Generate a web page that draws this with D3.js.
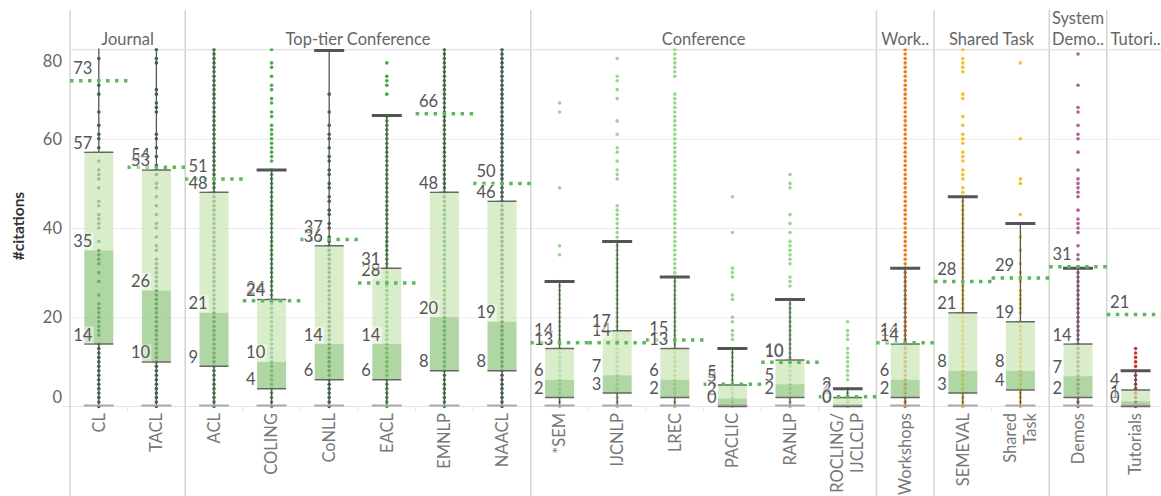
<!DOCTYPE html>
<html>
<head>
<meta charset="utf-8">
<script src="https://cdn.jsdelivr.net/npm/d3@7"></script>
<style>
  body { margin: 0; background: #fff; }
  svg text { font-family: Lato, "Open Sans", sans-serif; }
</style>
</head>
<body>
<div id="chart"></div>
<script>
// venue groups shown in the header row
const groups = ["Journal", "Top-tier Conference", "Conference", "Work..", "Shared Task", "System\nDemo..", "Tutori.."];

const categories = ["CL", "TACL", "ACL", "COLING", "CoNLL", "EACL", "EMNLP", "NAACL",
  "*SEM", "IJCNLP", "LREC", "PACLIC", "RANLP", "ROCLING/\nIJCLCLP",
  "Workshops", "SEMEVAL", "Shared\nTask", "Demos", "Tutorials"];
const categoryGroup = [0, 0, 1, 1, 1, 1, 1, 1, 2, 2, 2, 2, 2, 2, 3, 4, 4, 5, 6];

// box plot stats (#citations), whisker low is always 0
const q1 =      [14, 10, 9, 4, 6, 6, 8, 8, 2, 3, 2, 0, 2, 0, 2, 3, 3.7, 2, 0];
const median =  [35, 26, 21, 10, 14, 14, 20, 19, 6, 7, 6, 1.8, 5, 0.3, 6, 8, 8, 6.8, 1.2];
const q3 =      [57, 53, 48, 24, 36, 31, 48, 46, 13, 17, 13, 4.8, 10.4, 2, 14, 21, 19, 14, 3.7];
const whiskerHigh = [120, 120, 120, 53, 79.8, 65.2, 120, 120, 28, 37, 29, 13, 24, 4, 31, 47, 41, 31, 8];
const means =   [73, 53.6, 51, 23.7, 37.4, 27.7, 65.6, 50, 14.3, 14.3, 14.9, 5.0, 9.9, 2.2, 14.3, 28, 28.8, 31.3, 20.6];

const dotColors = ["#2e6b41", "#2e6b41", "#3a8a3f", "#4cab4c", "#2e6b41", "#45a345", "#3a8a3f", "#2e6b41",
  "#98d78e", "#98d78e", "#98d78e", "#98d78e", "#98d78e", "#98d78e",
  "#f07d1c", "#f2c12e", "#f2c12e", "#b2619f", "#c23b2c"];

// individual papers: every integer up to denseTop has papers, plus sparser ones above
const denseSteps = [0, 1, 2, 3, 4, 5, 6, 7, 8, 9, 10, 11, 12, 13, 14, 15, 16, 17, 18, 19, 20,
  21, 22, 23, 24, 25, 26, 27, 28, 29, 30, 31, 32, 33, 34, 35, 36, 37, 38, 39, 40,
  41, 42, 43, 44, 45, 46, 47, 48, 49, 50, 51, 52, 53, 54, 55, 56, 57, 58, 59, 60,
  61, 62, 63, 64, 65, 66, 67, 68, 69, 70, 71, 72, 73, 74, 75, 76, 77, 78, 79, 80];
const denseTop = [14, 33, 80, 53, 37, 65, 80, 80, 28, 37, 70, 13, 24, 4, 80, 47, 19, 31, 13];
const sparseDots = [
  [78, 72, 70, 66, 63, 61, 60, 58, 55, 53, 52, 51, 49, 46, 45, 43, 42, 41, 40, 37, 35, 34, 33, 32, 30, 28, 25, 23, 22, 21, 20, 19, 18, 17, 16],
  [35, 36, 38, 40, 41, 43, 45, 47, 49, 50, 52, 54, 56, 58, 60, 61, 66, 67, 68, 70, 71, 77, 78, 80],
  [],
  [80, 77, 76, 74, 72, 71, 69, 68, 66, 65, 63, 62, 61, 60, 59, 58, 57, 56, 55],
  [70, 66, 63, 61, 60, 58, 56, 55, 53, 52, 50, 49, 47, 46, 44, 43, 41, 40, 38],
  [77, 74, 73, 72, 70],
  [],
  [],
  [68, 66, 49, 36, 34],
  [78, 74, 73, 71, 69, 64, 61, 58, 57, 55, 53, 52, 51, 45, 44, 43, 42, 41, 40, 39, 38],
  [80, 79, 78, 77, 76, 75, 74],
  [47, 39, 31, 30, 29, 25, 24, 20, 19, 17, 16, 15],
  [52, 50, 49, 43, 41, 39, 37, 36, 35, 34, 33, 32, 29, 28, 27],
  [19, 17, 16, 15, 13, 12, 11, 10, 9, 8, 7, 6],
  [],
  [80, 78, 77, 76, 75, 70, 69, 65, 63, 61, 60, 59, 57, 56, 55, 53, 52, 51, 49, 48],
  [77, 60, 51, 50, 43, 38, 35, 32, 30, 28, 26, 25, 24, 23, 22, 21],
  [79, 72, 67, 66, 63, 61, 60, 57, 53, 51, 50, 49, 48, 47, 44, 42, 41, 40, 39, 36, 34, 33],
  []
];

const yTicks = [0, 20, 40, 60, 80];

const svgWidth = 1161;
const svgHeight = 496;
const plotLeft = 70, plotTop = 49.5, plotBottom = 406.5;
const colWidth = 57.6;

const svg = d3.select('#chart')
  .append('svg')
  .attr('width', svgWidth)
  .attr('height', svgHeight);

const x = d3.scaleBand()
  .domain(categories)
  .range([plotLeft, plotLeft + colWidth * categories.length]);

const y = d3.scaleLinear()
  .domain([0, 80])
  .range([plotBottom, plotTop]);

const bw = x.bandwidth();
const cx = c => x(c) + bw / 2;

svg.append('defs').append('clipPath').attr('id', 'plotClip')
  .append('rect')
  .attr('x', plotLeft).attr('y', plotTop - 1)
  .attr('width', svgWidth - plotLeft).attr('height', plotBottom - plotTop + 4);

// gridlines
const grid = svg.append('g')
  .attr('transform', `translate(${plotLeft},0)`)
  .call(d3.axisLeft(y).tickValues([20, 40, 60, 80]).tickSize(-(svgWidth - plotLeft)).tickFormat(''));
grid.select('.domain').remove();
grid.selectAll('line').attr('stroke', '#ebebeb');

// x baseline and small ticks between columns
svg.append('line')
  .attr('x1', plotLeft - 7).attr('x2', svgWidth)
  .attr('y1', plotBottom).attr('y2', plotBottom)
  .attr('stroke', '#e2e2e2');
svg.append('g').selectAll('line')
  .data(categories.filter((c, i) => i > 0 && categoryGroup[i] === categoryGroup[i - 1]))
  .join('line')
  .attr('x1', d => x(d)).attr('x2', d => x(d))
  .attr('y1', plotBottom).attr('y2', plotBottom + 5)
  .attr('stroke', '#e4e4e4');

// y axis labels
const yAxis = svg.append('g')
  .attr('transform', `translate(${plotLeft},0)`)
  .call(d3.axisLeft(y).tickValues(yTicks).tickSize(0).tickPadding(8));
yAxis.select('.domain').remove();
yAxis.selectAll('text')
  .style('font-size', '16.5px')
  .attr('fill', '#666')
  .attr('dy', d => d === 80 ? '1.05em' : d === 0 ? '-0.25em' : '0.32em');

svg.append('text')
  .attr('transform', `translate(24,226) rotate(-90)`)
  .attr('text-anchor', 'middle')
  .style('font-size', '15.5px')
  .style('font-weight', 'bold')
  .attr('fill', '#333')
  .text('#citations');

// panel dividers + headers
const groupStart = groups.map((g, gi) => x(categories[categoryGroup.indexOf(gi)]));
const groupEnd = groups.map((g, gi) => x(categories[categoryGroup.lastIndexOf(gi)]) + bw);

svg.append('g').selectAll('line')
  .data(groupStart)
  .join('line')
  .attr('x1', d => d).attr('x2', d => d)
  .attr('y1', 10).attr('y2', svgHeight)
  .attr('stroke', '#d3d3d3')
  .attr('stroke-width', 1.5);

svg.append('line')
  .attr('x1', plotLeft).attr('x2', svgWidth)
  .attr('y1', plotTop).attr('y2', plotTop)
  .attr('stroke', '#e3e3e3');

groups.forEach((g, gi) => {
  const lines = g.split('\n');
  const t = svg.append('text')
    .attr('x', (groupStart[gi] + groupEnd[gi]) / 2)
    .attr('text-anchor', 'middle')
    .style('font-size', '16.5px')
    .attr('fill', '#666');
  lines.forEach((l, li) => {
    t.append('tspan')
      .attr('x', (groupStart[gi] + groupEnd[gi]) / 2)
      .attr('y', 45 - (lines.length - 1 - li) * 21.5)
      .text(l);
  });
});

// category labels (rotated)
categories.forEach(c => {
  const lines = c.split('\n');
  lines.forEach((l, li) => {
    const off = (li - (lines.length - 1) / 2) * 20;
    svg.append('text')
      .attr('transform', `translate(${cx(c) + off},413) rotate(-90)`)
      .attr('text-anchor', 'end')
      .attr('dy', '0.35em')
      .style('font-size', '16.5px')
      .attr('fill', '#777')
      .text(l);
  });
});

const plot = svg.append('g').attr('clip-path', 'url(#plotClip)');

// dots
categories.forEach((c, i) => {
  const vals = sparseDots[i].concat(denseSteps.filter(v => v <= denseTop[i]));
  plot.append('g').selectAll('circle')
    .data(vals.filter(v => v <= 80))
    .join('circle')
    .attr('cx', cx(c))
    .attr('cy', d => y(d))
    .attr('r', 1.8)
    .attr('fill', dotColors[i]);
});

// boxes
const half = 14.5;
categories.forEach((c, i) => {
  const g = plot.append('g');
  g.append('rect')
    .attr('x', cx(c) - half).attr('width', half * 2)
    .attr('y', y(q3[i])).attr('height', y(median[i]) - y(q3[i]))
    .attr('fill', '#cae5b5').attr('opacity', 0.7);
  g.append('rect')
    .attr('x', cx(c) - half).attr('width', half * 2)
    .attr('y', y(median[i])).attr('height', y(q1[i]) - y(median[i]))
    .attr('fill', '#8ec47c').attr('opacity', 0.7);
  // whiskers
  g.append('line')
    .attr('x1', cx(c)).attr('x2', cx(c))
    .attr('y1', y(q3[i])).attr('y2', y(whiskerHigh[i]))
    .attr('stroke', '#555').attr('stroke-width', 1.3);
  g.append('line')
    .attr('x1', cx(c)).attr('x2', cx(c))
    .attr('y1', y(q1[i])).attr('y2', y(0))
    .attr('stroke', '#555').attr('stroke-width', 1.3);
  g.append('line')
    .attr('x1', cx(c) - 15).attr('x2', cx(c) + 15)
    .attr('y1', y(whiskerHigh[i])).attr('y2', y(whiskerHigh[i]))
    .attr('stroke', '#555').attr('stroke-width', 3);
  g.append('line')
    .attr('x1', cx(c) - 15).attr('x2', cx(c) + 15)
    .attr('y1', y(0) - 1).attr('y2', y(0) - 1)
    .attr('stroke', '#aaa').attr('stroke-width', 2);
  [q3[i], q1[i]].forEach(v => {
    g.append('line')
      .attr('x1', cx(c) - half).attr('x2', cx(c) + half)
      .attr('y1', y(v)).attr('y2', y(v))
      .attr('stroke', '#666').attr('stroke-width', 1.5);
  });
});

// mean reference lines
plot.append('g').selectAll('line')
  .data(categories)
  .join('line')
  .attr('x1', d => x(d)).attr('x2', d => x(d) + bw)
  .attr('y1', (d, i) => y(means[i])).attr('y2', (d, i) => y(means[i]))
  .attr('stroke', '#5cb85a')
  .attr('stroke-width', 3.5)
  .attr('stroke-dasharray', '3.5 5.5');

// value labels
const labelLayer = svg.append('g');
categories.forEach((c, i) => {
  const items = [[means[i], 6.5], [q3[i], 3.5], [median[i], 3.5], [q1[i], 3.5]];
  items.forEach(([v, lift]) => {
    const t = labelLayer.append('text')
      .attr('x', cx(c) - 25.5)
      .attr('y', y(v) - lift)
      .style('font-size', '16.5px')
      .attr('fill', '#555')
      .text(Math.round(v));
    const bb = t.node().getBBox();
    labelLayer.insert('rect', () => t.node())
      .attr('x', bb.x - 1).attr('y', bb.y + 2)
      .attr('width', bb.width + 2).attr('height', bb.height - 3)
      .attr('fill', '#fff').attr('opacity', 0.45);
  });
});
</script>
</body>
</html>
